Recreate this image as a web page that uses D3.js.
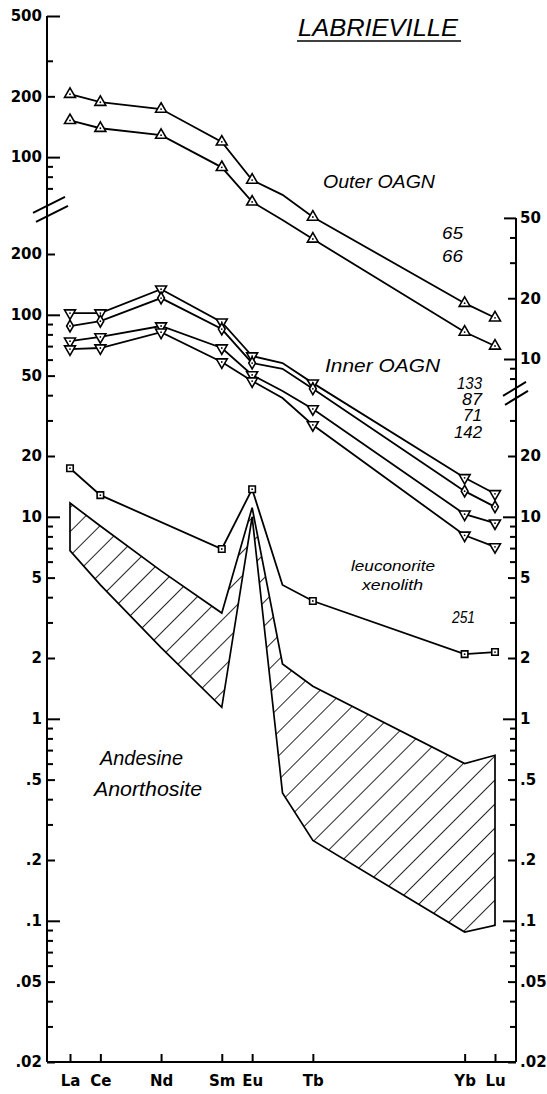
<!DOCTYPE html>
<html lang="en">
<head>
<meta charset="UTF-8">
<title>Labrieville REE</title>
<script src="https://cdn.jsdelivr.net/npm/d3@7/dist/d3.min.js"></script>
<style>
    body { margin: 0; background: #fff; }
    svg text { font-family: "DejaVu Sans", sans-serif; fill: #000; }
    .tick line { stroke: #000; stroke-width: 2px; }
    .tick text { font-size: 15px; font-weight: bold; }
    .note { font-family: "Liberation Sans", Arial, sans-serif !important; font-style: italic; }
</style>
</head>
<body>
<svg id="main" width="547" height="1094"></svg>
<script>
    // element order on the x axis (Gd only as a bend in the lines, no marker)
    const elements = ["La", "Ce", "Nd", "Sm", "Eu", "Gd", "Tb", "Yb", "Lu"];
    const atomicNo = [57, 58, 60, 62, 63, 64, 65, 70, 71];
    const axisElements = ["La", "Ce", "Nd", "Sm", "Eu", "Tb", "Yb", "Lu"];

    // Outer OAGN (upper panel scale)
    const outer65 = [205, 187, 173, 119, 77, 65, 50.5, 18.9, 16.0];
    const outer66 = [152, 139, 128.5, 89, 60, 48.8, 39.3, 13.6, 11.6];

    // Inner OAGN (lower panel scale)
    const inner133 = [102, 102, 134, 92, 62.5, 57.7, 45.9, 15.6, 13.0];
    const inner87 = [88, 93, 121, 85, 57.7, 54, 43, 13.4, 11.2];
    const inner71 = [74, 77.7, 88, 68.5, 50.4, 42, 34.2, 10.3, 9.3];
    const inner142 = [67.7, 68.5, 82, 58.4, 47, 38.7, 28.5, 8.1, 7.1];

    // leuconorite xenolith 251 (no Nd)
    const leuco251 = [17.4, 12.8, null, 6.93, 13.7, 4.6, 3.83, 2.09, 2.14];

    // andesine anorthosite field
    const anorthUpper = [11.7, 9.0, 5.4, 3.34, 11.1, 1.87, 1.45, 0.60, 0.66];
    const anorthLower = [6.8, 4.6, 2.25, 1.14, 10.0, 0.43, 0.25, 0.088, 0.095];

    // axis ticks
    const leftTopLong = [500, 100], leftTopMid = [200], leftTopMinor = [300, 90, 80, 70];
    const rightTopLong = [50, 10], rightTopMid = [20], rightTopMinor = [40, 30, 9, 8];
    const botLong = [100, 10, 1, 0.1];
    const leftBotMid = [200, 50, 20, 5, 2, 0.5, 0.2, 0.05, 0.02];
    const rightBotMid = [20, 5, 2, 0.5, 0.2, 0.05, 0.02];
    const botMinor = [90, 80, 70, 60, 40, 30, 9, 8, 7, 6, 4, 3, 0.9, 0.8, 0.7, 0.6, 0.4, 0.3,
        0.09, 0.08, 0.07, 0.06, 0.04, 0.03];
    const rightBotMinor = botMinor.filter(v => v < 40);

    let svg = d3.select('svg#main');
    const xLeft = 47, xRight = 516;

    let x = d3.scaleLinear().domain([57, 71]).range([70, 495]);
    let yTop = d3.scaleLog().domain([10, 500]).range([359, 16]);
    let yBot = d3.scaleLog().domain([0.02, 200]).range([1062, 254]);

    const fmt = v => v < 1 ? String(v).replace(/^0/, "") : String(v);

    // hatch pattern for the anorthosite field
    svg.append("defs").append("pattern")
        .attr("id", "hatch")
        .attr("patternUnits", "userSpaceOnUse")
        .attr("width", 17).attr("height", 17)
        .attr("patternTransform", "rotate(45)")
        .append("line")
        .attr("x1", 0).attr("y1", 0).attr("x2", 0).attr("y2", 17)
        .attr("stroke", "#000").attr("stroke-width", 1.7);

    function yAxis(scale, side, values, size, labels) {
        let ax = (side === "left" ? d3.axisLeft(scale) : d3.axisRight(scale))
            .tickValues(values)
            .tickSize(-size)
            .tickPadding(side === "left" ? 5 : 4)
            .tickFormat(labels ? fmt : "");
        svg.append("g")
            .attr("transform", "translate(" + (side === "left" ? xLeft : xRight) + ",0)")
            .call(ax)
            .call(g => g.select(".domain").remove());
    }

    yAxis(yTop, "left", leftTopLong, 13, true);
    yAxis(yTop, "left", leftTopMid, 8, true);
    yAxis(yTop, "left", leftTopMinor, 6, false);
    yAxis(yBot, "left", botLong, 13, true);
    yAxis(yBot, "left", leftBotMid, 8, true);
    yAxis(yBot, "left", botMinor, 6, false);

    yAxis(yTop, "right", rightTopLong, 12, true);
    yAxis(yTop, "right", rightTopMid, 8, true);
    yAxis(yTop, "right", rightTopMinor, 6, false);
    yAxis(yBot, "right", botLong.filter(v => v < 20), 13, true);
    yAxis(yBot, "right", rightBotMid, 8, true);
    yAxis(yBot, "right", rightBotMinor, 6, false);

    // bottom axis
    let xAxis = d3.axisBottom(x)
        .tickValues(axisElements.map(e => atomicNo[elements.indexOf(e)]))
        .tickFormat(z => elements[atomicNo.indexOf(z)])
        .tickSize(-8)
        .tickPadding(13);
    svg.append("g")
        .attr("transform", "translate(0," + yBot(0.02) + ")")
        .call(xAxis)
        .call(g => g.select(".domain").remove());

    // spines
    const spine = (x1, y1, x2, y2) => svg.append("line")
        .attr("x1", x1).attr("y1", y1).attr("x2", x2).attr("y2", y2)
        .attr("stroke", "#000").attr("stroke-width", 2);
    spine(xLeft, yTop(500), xLeft, yBot(0.02));
    spine(xRight, yTop(50), xRight, yBot(0.02));
    spine(xLeft, yBot(0.02), xRight, yBot(0.02));

    // axis breaks
    const yb1 = yTop(58), yb2 = yBot(43);
    [0, 1].forEach(k => {
        spine(xLeft - 14 + 3 * k, yb1 + 8 + 9 * k, xLeft + 18 + 3 * k, yb1 - 8 + 9 * k);
        spine(xRight - 13 + 2 * k, yb2 + 7 + 9 * k, xRight + 10 + 2 * k, yb2 - 7 + 9 * k);
    });

    // anorthosite field
    let field = elements.map((e, i) => [x(atomicNo[i]), yBot(anorthUpper[i])])
        .concat(elements.map((e, i) => [x(atomicNo[i]), yBot(anorthLower[i])]).reverse());
    svg.append("path")
        .attr("d", "M" + field.join("L") + "Z")
        .attr("fill", "url(#hatch)")
        .attr("stroke", "#000")
        .attr("stroke-width", 1.7)
        .attr("stroke-linejoin", "miter");

    const series = [
        {vals: outer65, y: yTop, sym: "up"},
        {vals: outer66, y: yTop, sym: "up"},
        {vals: inner133, y: yBot, sym: "down"},
        {vals: inner87, y: yBot, sym: "diamond"},
        {vals: inner71, y: yBot, sym: "down"},
        {vals: inner142, y: yBot, sym: "down"},
        {vals: leuco251, y: yBot, sym: "square"}
    ];

    series.forEach(s => {
        let pts = elements.map((e, i) => ({e: e, z: atomicNo[i], v: s.vals[i]}))
            .filter(d => d.v != null);
        let line = d3.line()
            .x(d => x(d.z))
            .y(d => s.y(d.v));
        svg.append("path")
            .datum(pts)
            .attr("d", line)
            .attr("fill", "none")
            .attr("stroke", "#000")
            .attr("stroke-width", 1.8);

        let symType = s.sym === "square" ? d3.symbolSquare
            : s.sym === "diamond" ? d3.symbolDiamond : d3.symbolTriangle;
        let symSize = s.sym === "square" ? 42 : s.sym === "diamond" ? 40 : 52;
        let m = svg.selectAll(null)
            .data(pts.filter(d => d.e !== "Gd"))
            .enter().append("g")
            .attr("transform", d => "translate(" + x(d.z) + "," + s.y(d.v) + ")");
        m.append("path")
            .attr("d", d3.symbol().type(symType).size(symSize))
            .attr("transform", s.sym === "down" ? "rotate(180)" : null)
            .attr("fill", "#fff")
            .attr("stroke", "#000")
            .attr("stroke-width", 1.6);
        m.append("circle").attr("r", 0.9).attr("fill", "#000");
    });

    // annotations
    function note(t, xp, yp, size, len, anchor) {
        svg.append("text")
            .attr("class", "note")
            .attr("x", xp).attr("y", yp)
            .attr("font-size", size)
            .attr("text-anchor", anchor || "start")
            .attr("textLength", len)
            .attr("lengthAdjust", "spacingAndGlyphs")
            .text(t);
    }
    note("LABRIEVILLE", 298, 36, 23, 160);
    spine(297, 41, 461, 41).attr("stroke-width", 1.6);
    note("Outer  OAGN", 323, 188, 19, 112);
    note("65", 463, 239, 16, 21, "end");
    note("66", 463, 262, 16, 21, "end");
    note("Inner  OAGN", 325, 372, 19, 115);
    note("133", 482, 389, 16, 25, "end");
    note("87", 482, 405, 16, 20, "end");
    note("71", 482, 421, 16, 19, "end");
    note("142", 482, 438, 16, 28, "end");
    note("leuconorite", 351, 571, 15, 84);
    note("xenolith", 362, 590, 15, 61);
    note("251", 475, 623, 16, 23, "end");
    note("Andesine", 100, 765, 20, 83);
    note("Anorthosite", 94, 796, 20, 108);
</script>
</body>
</html>
